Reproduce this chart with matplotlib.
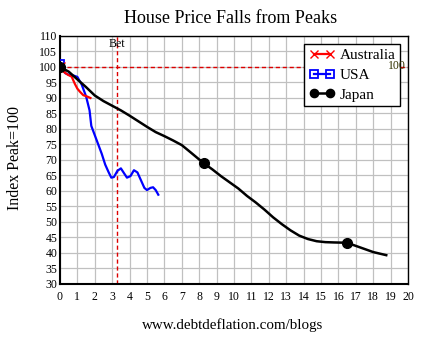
import numpy as np
import matplotlib
matplotlib.use("Agg")
import matplotlib.pyplot as plt

plt.rcParams["font.family"] = ["Liberation Serif", "DejaVu Serif"]

# Years from peak, index (peak = 100)
japan_years = [0, 0.5, 1.0, 1.5, 2.0, 2.5, 3.0, 3.5, 4.0, 4.5, 5.0, 5.5, 6.0, 6.5,
               7.0, 7.5, 8.25, 8.75, 9.25, 9.75, 10.25, 10.75, 11.25, 11.75, 12.25,
               12.75, 13.25, 13.75, 14.25, 14.75, 15.25, 15.75, 16.5, 17.0, 17.5,
               18.0, 18.75]
japan_index = [100, 98.5, 96, 93.5, 90.8, 89, 87.5, 86, 84.3, 82.5, 80.7, 79, 77.7,
               76.3, 74.8, 72.5, 69, 67, 64.8, 62.8, 60.8, 58.4, 56.3, 54, 51.5,
               49.3, 47.3, 45.6, 44.5, 43.8, 43.5, 43.4, 43.3, 42.3, 41.3, 40.3, 39.3]

usa_years = [0, 0.15, 0.3, 0.55, 0.8, 1.0, 1.25, 1.5, 1.7, 1.8, 2.0, 2.2, 2.4, 2.6,
             2.8, 2.95, 3.1, 3.3, 3.5, 3.65, 3.85, 4.05, 4.25, 4.45, 4.65, 4.85,
             5.0, 5.2, 5.35, 5.5, 5.65]
usa_index = [101, 99.5, 98, 97.4, 97.2, 96.8, 94.3, 90.5, 86, 81, 78, 75, 72, 68.5,
             66, 64.3, 64.5, 66.5, 67.3, 66, 64.3, 64.8, 66.7, 66, 63.5, 61, 60.3,
             61, 61.2, 60.3, 58.8]

aus_years = [0, 0.2, 0.45, 0.67, 0.86, 1.0, 1.15, 1.34, 1.55, 1.75]
aus_index = [100, 98.5, 97.5, 96.9, 94.5, 93, 92, 90.9, 90.5, 90]

bet_year = 3.3
peak_level = 100

fig = plt.figure(figsize=(4.23, 3.37), dpi=100)
ax = fig.add_axes([0.1418, 0.1573, 0.8227, 0.7359])

ax.plot(aus_years, aus_index, color="#ff0000", lw=1.6, marker="x", ms=7,
        markevery=[0], label="Australia", zorder=4)
ax.plot(usa_years, usa_index, color="#0000ff", lw=1.6, marker="s", ms=6,
        mfc="none", mew=1.3, markevery=[0], label="USA", zorder=3)
ax.plot(japan_years, japan_index, color="black", lw=1.8, marker="o", ms=7,
        markevery=[0, 16, 32], label="Japan", zorder=5)

# reference lines
ax.axhline(peak_level, color="#dd0000", lw=1.0, ls=(0, (3, 2)), zorder=2)
ax.axvline(bet_year, color="#dd0000", lw=1.0, ls=(0, (3, 2)), zorder=2)
ax.text(bet_year, 107.3, "Bet", ha="center", va="center", fontsize=8.5)
ax.text(18.85, 100.3, "100", ha="left", va="center", fontsize=8.5,
        color="#333300", zorder=10)

ax.set_xlim(0, 20)
ax.set_ylim(30, 110)
ax.set_xticks(np.arange(0, 21, 1))
ax.set_yticks(np.arange(30, 111, 5))
ax.tick_params(length=0, labelsize=8.5)
ax.tick_params(axis="x", pad=5)
ax.tick_params(axis="y", pad=2)
ax.grid(True, color="#c0c0c0", lw=0.9)
ax.set_axisbelow(True)
for s in ax.spines.values():
    s.set_color("black")
    s.set_linewidth(1.0)
ax.spines["left"].set_linewidth(1.5)
ax.spines["bottom"].set_linewidth(1.5)

leg = ax.legend(loc="upper right", bbox_to_anchor=(0.977, 0.968), fontsize=11,
                numpoints=2, markerscale=0.85, fancybox=False, framealpha=1,
                edgecolor="black", borderpad=0.3, labelspacing=0.4,
                handlelength=1.7, handletextpad=0.3, borderaxespad=0)
leg.get_frame().set_linewidth(1.0)
leg.set_zorder(8)

fig.text(0.544, 0.945, "House Price Falls from Peaks", ha="center", va="center",
         fontsize=13)
fig.text(0.036, 0.531, "Index Peak=100", rotation=90, ha="center", va="center",
         fontsize=11.5)
fig.text(0.551, 0.035, "www.debtdeflation.com/blogs", ha="center", va="center",
         fontsize=10.8)

fig.savefig("out.png", dpi=100)
